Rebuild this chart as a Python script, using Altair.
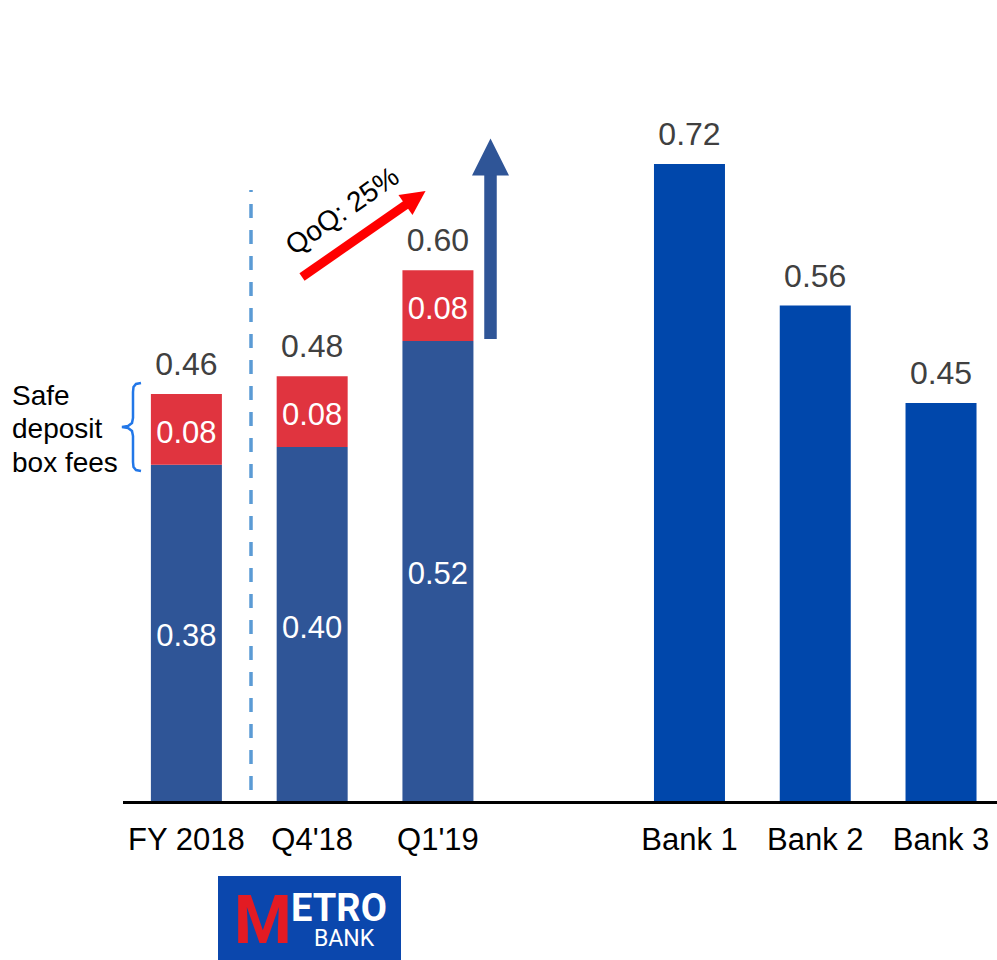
import altair as alt
import pandas as pd

# ---------------- data ----------------
categories = ["FY 2018", "Q4'18", "Q1'19", "Bank 1", "Bank 2", "Bank 3"]
groups = ["Metro Bank", "Metro Bank", "Metro Bank", "Peer", "Peer", "Peer"]
core_values = [0.38, 0.40, 0.52, 0.72, 0.56, 0.45]
safe_box_values = [0.08, 0.08, 0.08, 0.0, 0.0, 0.0]
slot_order = ["FY 2018", "Q4'18", "Q1'19", None, "Bank 1", "Bank 2", "Bank 3"]

brace_label = ["Safe", "deposit", "box fees"]
qoq_label = "QoQ: 25%"

# ---------------- styling / layout ----------------
FONT = "Liberation Sans"
DARK_BLUE = "#2f5597"
PEER_BLUE = "#0047ab"
RED = "#e0343f"
GREY = "#404040"

W, H = 997, 801
STEP = 125.77
X0 = 186.4
PPU = 884.7
X_LO, X_HI = -X0 / STEP, (W - X0) / STEP
Y_HI = H / PPU


def px_x(p):
    return (p - X0) / STEP


def px_y(p):
    return (H - p) / PPU


XS = alt.Scale(domain=[X_LO, X_HI], nice=False, zero=False, padding=0)
YS = alt.Scale(domain=[0, Y_HI], nice=False, padding=0)


def X(f):
    return alt.X(f, type="quantitative", scale=XS, axis=None)


def Y(f):
    return alt.Y(f, type="quantitative", scale=YS, axis=None)


rows = []
for cat, g, c, s in zip(categories, groups, core_values, safe_box_values):
    tot = round(c + s, 2)
    rows.append(dict(
        category=cat, group=g, slot=slot_order.index(cat), core=c, safe=s,
        total=tot, core_mid=c / 2, safe_mid=c + s / 2,
        total_label=f"{tot:.2f}", core_label=f"{c:.2f}", safe_label=f"{s:.2f}",
    ))
df = pd.DataFrame(rows)
metro = df[df.safe > 0]

bars_core = alt.Chart(df).mark_bar(size=71).encode(
    x=X("slot"), y=Y("core"),
    color=alt.Color("group:N", scale=alt.Scale(domain=["Metro Bank", "Peer"],
                                               range=[DARK_BLUE, PEER_BLUE]), legend=None),
)
bars_safe = alt.Chart(metro).mark_bar(size=71, color=RED).encode(
    x=X("slot"), y=Y("core"), y2=alt.Y2("total"))

total_text = alt.Chart(df).mark_text(dy=-19, baseline="alphabetic", fontSize=32,
                                     color=GREY, font=FONT).encode(
    x=X("slot"), y=Y("total"), text="total_label")
core_text = alt.Chart(metro).mark_text(dy=13.5, baseline="alphabetic", fontSize=31,
                                       color="white", font=FONT).encode(
    x=X("slot"), y=Y("core_mid"), text="core_label")
safe_text = alt.Chart(metro).mark_text(dy=13.5, baseline="alphabetic", fontSize=31,
                                       color="white", font=FONT).encode(
    x=X("slot"), y=Y("safe_mid"), text="safe_label")
x_labels = alt.Chart(df).mark_text(baseline="alphabetic", fontSize=31, color="black",
                                   font=FONT).encode(
    x=X("slot"), y=alt.value(850), text="category")

# baseline axis line
axis_df = pd.DataFrame({"x": [px_x(123)], "x2": [X_HI], "y": [px_y(802.5)]})
axis_line = alt.Chart(axis_df).mark_rule(color="black", strokeWidth=3).encode(
    x=X("x"), x2=alt.X2("x2"), y=Y("y"))

# dashed separator
dash_df = pd.DataFrame({"x": [px_x(251)], "y": [px_y(790)], "y2": [px_y(190)]})
dash_line = alt.Chart(dash_df).mark_rule(color="#5b9bd5", strokeWidth=3.5,
                                         strokeDash=[14, 12]).encode(
    x=X("x"), y=Y("y"), y2=alt.Y2("y2"))

# red QoQ arrow
red_df = pd.DataFrame({"x": [px_x(302)], "y": [px_y(277)], "x2": [px_x(407)], "y2": [px_y(204)]})
red_shaft = alt.Chart(red_df).mark_rule(color="#ff0000", strokeWidth=9).encode(
    x=X("x"), y=Y("y"), x2=alt.X2("x2"), y2=alt.Y2("y2"))
red_head_df = pd.DataFrame({"x": [px_x(415.5)], "y": [px_y(198)]})
red_head = alt.Chart(red_head_df).mark_point(
    shape="M0,-1L1,1L-1,1Z", filled=True, color="#ff0000", opacity=1, size=600,
    angle=55, strokeWidth=0).encode(x=X("x"), y=Y("y"))
qoq_df = pd.DataFrame({"x": [px_x(343)], "y": [px_y(212)], "t": [qoq_label]})
qoq_text = alt.Chart(qoq_df).mark_text(angle=325, fontSize=28, color="black", font=FONT,
                                       align="center", baseline="middle").encode(
    x=X("x"), y=Y("y"), text="t")

# blue upward arrow
up_df = pd.DataFrame({"x": [px_x(490.5)], "y": [px_y(339)], "y2": [px_y(174)]})
up_shaft = alt.Chart(up_df).mark_rule(color=DARK_BLUE, strokeWidth=12.5).encode(
    x=X("x"), y=Y("y"), y2=alt.Y2("y2"))
up_head_df = pd.DataFrame({"x": [px_x(490.5)], "y": [px_y(157)]})
up_head = alt.Chart(up_head_df).mark_point(
    shape="M0,-1L1,1L-1,1Z", filled=True, color=DARK_BLUE, opacity=1, size=1369,
    strokeWidth=0).encode(x=X("x"), y=Y("y"))

# curly brace
brace_px = [(141, 383), (136, 384), (133.5, 387), (133, 392), (133, 418), (132, 423),
            (128, 426), (122, 427), (128, 428), (132, 431), (133, 436), (133, 462),
            (133.5, 467), (136, 470), (141, 471)]
brace_df = pd.DataFrame({"i": list(range(len(brace_px))),
                         "x": [px_x(p[0]) for p in brace_px],
                         "y": [px_y(p[1]) for p in brace_px]})
brace = alt.Chart(brace_df).mark_line(color="#2277e8", strokeWidth=2.5).encode(
    x=X("x"), y=Y("y"), order="i:Q")
brace_txt_df = pd.DataFrame({"x": [px_x(12)] * 3, "y": [px_y(405), px_y(438), px_y(472)],
                             "t": brace_label})
brace_text = alt.Chart(brace_txt_df).mark_text(align="left", baseline="alphabetic",
                                               fontSize=28, color="black", font=FONT).encode(
    x=X("x"), y=Y("y"), text="t")

# logo
logo_df = pd.DataFrame({"x": [px_x(218)], "x2": [px_x(401)], "y": [px_y(876)], "y2": [px_y(960)]})
logo_box = alt.Chart(logo_df).mark_rect(color="#0b47ad").encode(
    x=X("x"), x2=alt.X2("x2"), y=Y("y"), y2=alt.Y2("y2"))
logo_m_df = pd.DataFrame({"x": [px_x(263)], "y": [px_y(943)], "t": ["M"]})
logo_m = alt.Chart(logo_m_df).mark_text(fontSize=66, fontWeight="bold", color="#e31b23",
                                        font="Roboto", align="center",
                                        baseline="alphabetic").encode(
    x=X("x"), y=Y("y"), text="t")
logo_etro_df = pd.DataFrame({"x": [px_x(339)], "y": [px_y(921)], "t": ["ETRO"]})
logo_etro = alt.Chart(logo_etro_df).mark_text(fontSize=38, fontWeight="bold", color="white",
                                              font="Roboto", align="center",
                                              baseline="alphabetic").encode(
    x=X("x"), y=Y("y"), text="t")
logo_bank_df = pd.DataFrame({"x": [px_x(344)], "y": [px_y(946)], "t": ["BANK"]})
logo_bank = alt.Chart(logo_bank_df).mark_text(fontSize=23, color="white", font="Roboto",
                                              align="center", baseline="alphabetic").encode(
    x=X("x"), y=Y("y"), text="t")

chart = alt.layer(
    bars_core, bars_safe, dash_line, axis_line, total_text, core_text, safe_text, x_labels,
    red_shaft, red_head, qoq_text, up_shaft, up_head, brace, brace_text,
    logo_box, logo_m, logo_etro, logo_bank,
).properties(
    width=W, height=H,
    padding={"left": 0, "top": 0, "right": 0, "bottom": 159},
    autosize=alt.AutoSizeParams(type="none"),
    background="white",
).configure_view(stroke=None)

chart.save("out.html", embed_options={"renderer": "svg", "actions": False})
